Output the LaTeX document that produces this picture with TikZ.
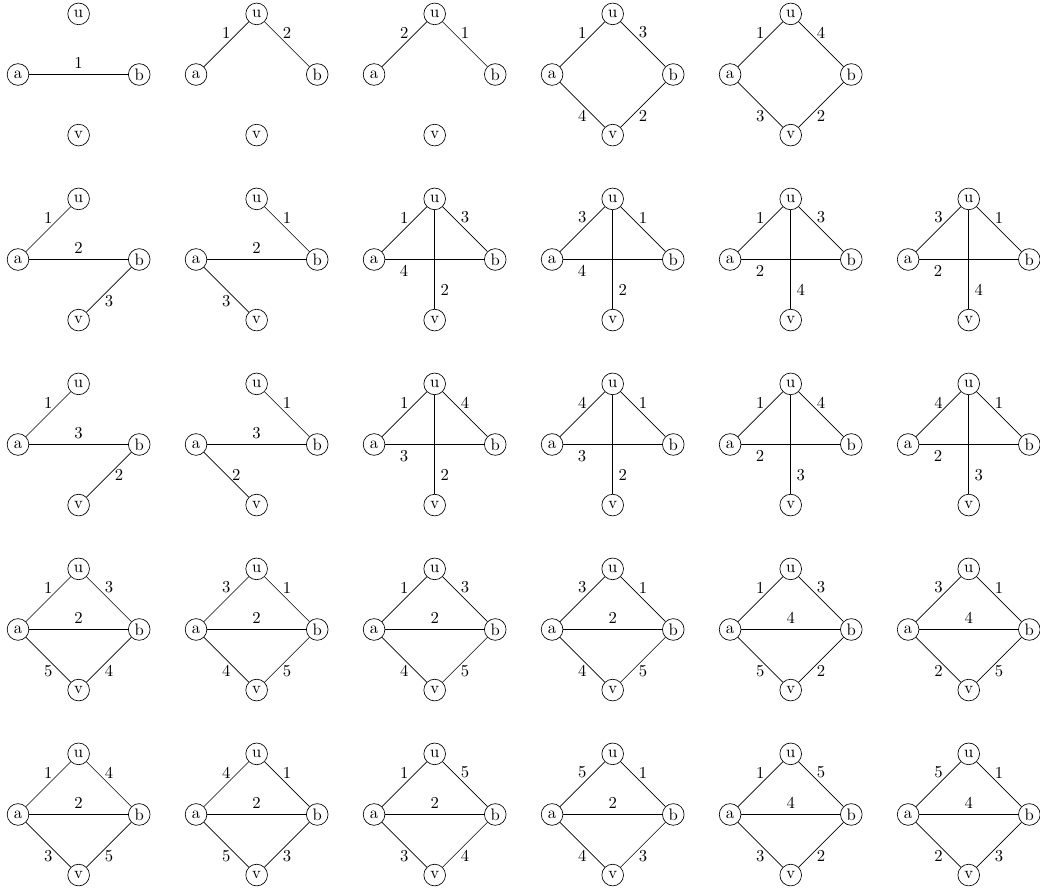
\documentclass[tikz,border=0pt]{standalone}
\usepackage{tikz}
\tikzset{
  vtxnode/.style={circle,draw=black,minimum size=13pt,inner sep=1pt},
  wtedge/.style={black},
  crosslab/.style={below,pos=0.19},
  vertlab/.style={right,pos=0.81},
}
% the four vertices of one graph, #1 = name prefix, (#2,#3) = place of a
\newcommand{\fournodes}[3]{%
  \node[vtxnode] (#1a) at (#2,#3) {a};
  \node[vtxnode] (#1u) at (#2+1.278,#3+1.278) {u};
  \node[vtxnode] (#1b) at (#2+2.556,#3) {b};
  \node[vtxnode] (#1v) at (#2+1.278,#3-1.278) {v};
}

\begin{document}
\begin{tikzpicture}
  \useasboundingbox (0,0) rectangle (21.931,-18.747);
  % row 1
  \fournodes{r1c1}{0.380}{-1.571}
  \fournodes{r1c2}{4.134}{-1.571}
  \fournodes{r1c3}{7.888}{-1.571}
  \fournodes{r1c4}{11.642}{-1.571}
  \fournodes{r1c5}{15.396}{-1.571}
  \draw[wtedge] (r1c1a) -- node[above] {1} (r1c1b);
  \draw[wtedge] (r1c2a) -- node[above] {1} (r1c2u) -- node[above] {2} (r1c2b);
  \draw[wtedge] (r1c3a) -- node[above] {2} (r1c3u) -- node[above] {1} (r1c3b);
  \draw[wtedge] (r1c4a) -- node[above] {1} (r1c4u) -- node[above] {3} (r1c4b);
  \draw[wtedge] (r1c4a) -- node[below] {4} (r1c4v) -- node[below] {2} (r1c4b);
  \draw[wtedge] (r1c5a) -- node[above] {1} (r1c5u) -- node[above] {4} (r1c5b);
  \draw[wtedge] (r1c5a) -- node[below] {3} (r1c5v) -- node[below] {2} (r1c5b);
  % row 2
  \fournodes{r2c1}{0.380}{-5.472}
  \fournodes{r2c2}{4.134}{-5.472}
  \fournodes{r2c3}{7.888}{-5.472}
  \fournodes{r2c4}{11.642}{-5.472}
  \fournodes{r2c5}{15.396}{-5.472}
  \fournodes{r2c6}{19.150}{-5.472}
  \draw[wtedge] (r2c1u) -- node[above] {1} (r2c1a) -- node[above] {2} (r2c1b) -- node[below] {3} (r2c1v);
  \draw[wtedge] (r2c2u) -- node[above] {1} (r2c2b) -- node[above] {2} (r2c2a) -- node[below] {3} (r2c2v);
  \draw[wtedge] (r2c3a) -- node[above] {1} (r2c3u) -- node[above] {3} (r2c3b);
  \draw[wtedge] (r2c3a) -- node[crosslab] {4} (r2c3b);
  \draw[wtedge] (r2c3u) -- node[vertlab] {2} (r2c3v);
  \draw[wtedge] (r2c4a) -- node[above] {3} (r2c4u) -- node[above] {1} (r2c4b);
  \draw[wtedge] (r2c4a) -- node[crosslab] {4} (r2c4b);
  \draw[wtedge] (r2c4u) -- node[vertlab] {2} (r2c4v);
  \draw[wtedge] (r2c5a) -- node[above] {1} (r2c5u) -- node[above] {3} (r2c5b);
  \draw[wtedge] (r2c5a) -- node[crosslab] {2} (r2c5b);
  \draw[wtedge] (r2c5u) -- node[vertlab] {4} (r2c5v);
  \draw[wtedge] (r2c6a) -- node[above] {3} (r2c6u) -- node[above] {1} (r2c6b);
  \draw[wtedge] (r2c6a) -- node[crosslab] {2} (r2c6b);
  \draw[wtedge] (r2c6u) -- node[vertlab] {4} (r2c6v);
  % row 3
  \fournodes{r3c1}{0.380}{-9.373}
  \fournodes{r3c2}{4.134}{-9.373}
  \fournodes{r3c3}{7.888}{-9.373}
  \fournodes{r3c4}{11.642}{-9.373}
  \fournodes{r3c5}{15.396}{-9.373}
  \fournodes{r3c6}{19.150}{-9.373}
  \draw[wtedge] (r3c1u) -- node[above] {1} (r3c1a) -- node[above] {3} (r3c1b) -- node[right] {2} (r3c1v);
  \draw[wtedge] (r3c2u) -- node[above] {1} (r3c2b) -- node[above] {3} (r3c2a) -- node[right] {2} (r3c2v);
  \draw[wtedge] (r3c3a) -- node[above] {1} (r3c3u) -- node[above] {4} (r3c3b);
  \draw[wtedge] (r3c3a) -- node[crosslab] {3} (r3c3b);
  \draw[wtedge] (r3c3u) -- node[vertlab] {2} (r3c3v);
  \draw[wtedge] (r3c4a) -- node[above] {4} (r3c4u) -- node[above] {1} (r3c4b);
  \draw[wtedge] (r3c4a) -- node[crosslab] {3} (r3c4b);
  \draw[wtedge] (r3c4u) -- node[vertlab] {2} (r3c4v);
  \draw[wtedge] (r3c5a) -- node[above] {1} (r3c5u) -- node[above] {4} (r3c5b);
  \draw[wtedge] (r3c5a) -- node[crosslab] {2} (r3c5b);
  \draw[wtedge] (r3c5u) -- node[vertlab] {3} (r3c5v);
  \draw[wtedge] (r3c6a) -- node[above] {4} (r3c6u) -- node[above] {1} (r3c6b);
  \draw[wtedge] (r3c6a) -- node[crosslab] {2} (r3c6b);
  \draw[wtedge] (r3c6u) -- node[vertlab] {3} (r3c6v);
  % row 4
  \fournodes{r4c1}{0.380}{-13.274}
  \fournodes{r4c2}{4.134}{-13.274}
  \fournodes{r4c3}{7.888}{-13.274}
  \fournodes{r4c4}{11.642}{-13.274}
  \fournodes{r4c5}{15.396}{-13.274}
  \fournodes{r4c6}{19.150}{-13.274}
  \draw[wtedge] (r4c1a) -- node[above] {1} (r4c1u) -- node[above] {3} (r4c1b) -- node[below] {4} (r4c1v) -- node[below] {5} (r4c1a);
  \draw[wtedge] (r4c1a) -- node[above] {2} (r4c1b);
  \draw[wtedge] (r4c2a) -- node[above] {3} (r4c2u) -- node[above] {1} (r4c2b) -- node[below] {5} (r4c2v) -- node[below] {4} (r4c2a);
  \draw[wtedge] (r4c2a) -- node[above] {2} (r4c2b);
  \draw[wtedge] (r4c3a) -- node[above] {1} (r4c3u) -- node[above] {3} (r4c3b) -- node[below] {5} (r4c3v) -- node[below] {4} (r4c3a);
  \draw[wtedge] (r4c3a) -- node[above] {2} (r4c3b);
  \draw[wtedge] (r4c4a) -- node[above] {3} (r4c4u) -- node[above] {1} (r4c4b) -- node[below] {5} (r4c4v) -- node[below] {4} (r4c4a);
  \draw[wtedge] (r4c4a) -- node[above] {2} (r4c4b);
  \draw[wtedge] (r4c5a) -- node[above] {1} (r4c5u) -- node[above] {3} (r4c5b) -- node[below] {2} (r4c5v) -- node[below] {5} (r4c5a);
  \draw[wtedge] (r4c5a) -- node[above] {4} (r4c5b);
  \draw[wtedge] (r4c6a) -- node[above] {3} (r4c6u) -- node[above] {1} (r4c6b) -- node[below] {5} (r4c6v) -- node[below] {2} (r4c6a);
  \draw[wtedge] (r4c6a) -- node[above] {4} (r4c6b);
  % row 5
  \fournodes{r5c1}{0.380}{-17.175}
  \fournodes{r5c2}{4.134}{-17.175}
  \fournodes{r5c3}{7.888}{-17.175}
  \fournodes{r5c4}{11.642}{-17.175}
  \fournodes{r5c5}{15.396}{-17.175}
  \fournodes{r5c6}{19.150}{-17.175}
  \draw[wtedge] (r5c1a) -- node[above] {1} (r5c1u) -- node[above] {4} (r5c1b) -- node[below] {5} (r5c1v) -- node[below] {3} (r5c1a);
  \draw[wtedge] (r5c1a) -- node[above] {2} (r5c1b);
  \draw[wtedge] (r5c2a) -- node[above] {4} (r5c2u) -- node[above] {1} (r5c2b) -- node[below] {3} (r5c2v) -- node[below] {5} (r5c2a);
  \draw[wtedge] (r5c2a) -- node[above] {2} (r5c2b);
  \draw[wtedge] (r5c3a) -- node[above] {1} (r5c3u) -- node[above] {5} (r5c3b) -- node[below] {4} (r5c3v) -- node[below] {3} (r5c3a);
  \draw[wtedge] (r5c3a) -- node[above] {2} (r5c3b);
  \draw[wtedge] (r5c4a) -- node[above] {5} (r5c4u) -- node[above] {1} (r5c4b) -- node[below] {3} (r5c4v) -- node[below] {4} (r5c4a);
  \draw[wtedge] (r5c4a) -- node[above] {2} (r5c4b);
  \draw[wtedge] (r5c5a) -- node[above] {1} (r5c5u) -- node[above] {5} (r5c5b) -- node[below] {2} (r5c5v) -- node[below] {3} (r5c5a);
  \draw[wtedge] (r5c5a) -- node[above] {4} (r5c5b);
  \draw[wtedge] (r5c6a) -- node[above] {5} (r5c6u) -- node[above] {1} (r5c6b) -- node[below] {3} (r5c6v) -- node[below] {2} (r5c6a);
  \draw[wtedge] (r5c6a) -- node[above] {4} (r5c6b);
\end{tikzpicture}
\end{document}
